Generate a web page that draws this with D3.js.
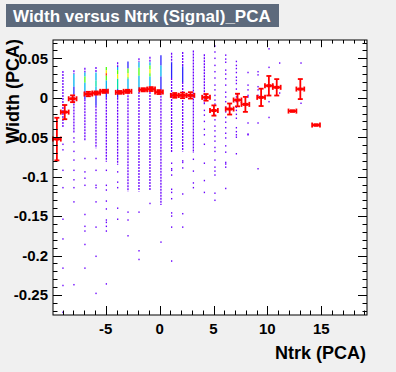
<!DOCTYPE html>
<html>
<head>
<meta charset="utf-8">
<script src="https://cdn.jsdelivr.net/npm/d3@7"></script>
<style>
  body { margin: 0; background: #f0f0f0; }
  text { font-family: "Liberation Sans", Arial, sans-serif; font-weight: bold; }
</style>
</head>
<body>
<div id="chart"></div>
<script>
// 2D histogram columns (x bin centres) and what is drawn in each
const colX = [-8.98, -7.96, -6.94, -5.91, -4.95, -3.90, -2.94, -1.92, -0.90, 0.12, 1.11,
              2.14, 3.13, 4.15, 5.13, 6.13, 7.12, 8.20, 9.13, 10.15, 11.14, 13.12];

// dense runs of filled bins: [yTop, yBottom, colour level]
const colDense = [
  [[0.034, -0.037, 0]],
  [[0.035, 0.030, 0], [0.030, 0.014, 2], [0.014, 0.004, 1], [0.004, -0.045, 0]],
  [[0.038, 0.032, 0], [0.032, 0.027, 2], [0.027, 0.019, 4], [0.019, 0.009, 2], [0.009, -0.002, 1], [-0.002, -0.054, 0]],
  [[0.039, 0.032, 0], [0.032, 0.022, 2], [0.022, 0.014, 3], [0.014, 0.006, 2], [0.006, -0.010, 1], [-0.010, -0.064, 0]],
  [[0.039, 0.035, 4], [0.035, 0.031, 5], [0.031, 0.028, 6], [0.028, 0.022, 4], [0.022, 0.011, 2], [0.011, 0.0, 1], [0.0, -0.081, 0]],
  [[0.045, 0.039, 0], [0.039, 0.035, 2], [0.035, 0.030, 4], [0.030, 0.024, 5], [0.024, 0.011, 3], [0.011, 0.0, 1], [0.0, -0.085, 0]],
  [[0.046, 0.037, 1], [0.037, 0.031, 4], [0.031, 0.026, 5], [0.026, 0.024, 4], [0.024, 0.007, 2], [0.007, -0.119, 0]],
  [[0.050, 0.045, 0], [0.045, 0.038, 2], [0.038, 0.028, 4], [0.028, 0.011, 2], [0.011, -0.119, 0]],
  [[0.052, 0.045, 0], [0.045, 0.041, 2], [0.041, 0.036, 4], [0.036, 0.031, 5], [0.031, 0.027, 4], [0.027, 0.011, 2], [0.011, -0.117, 0]],
  [[0.054, 0.041, 1], [0.041, 0.027, 2], [0.027, 0.010, 1], [0.010, -0.136, 0]],
  [[0.057, 0.045, 0], [0.045, 0.025, 1], [0.025, -0.070, 0]],
  [[0.058, 0.040, 0], [0.040, 0.020, 1], [0.020, -0.068, 0]],
  [[0.060, -0.070, 0]],
  [[0.055, -0.009, 0]],
  [], [], [], [], [], [], [], []
];

// isolated single bins
const colDots = [
  [-0.059, -0.066, -0.092, -0.114, -0.154, -0.179, -0.216, -0.238, -0.272],
  [-0.051, -0.056, -0.068, -0.079, -0.092, -0.104, -0.114, -0.132, -0.237],
  [-0.077, -0.094, -0.102, -0.111, -0.148, -0.163, -0.169, -0.186, -0.216],
  [-0.077, -0.092, -0.111, -0.114, -0.132, -0.164, -0.201, -0.248],
  [-0.092, -0.111, -0.117, -0.131, -0.141, -0.155, -0.158, -0.163, -0.169, -0.236],
  [-0.094, -0.107, -0.114, -0.140, -0.154],
  [-0.145, -0.155, -0.175],
  [-0.145, -0.194, -0.205],
  [-0.134],
  [-0.183],
  [-0.083, -0.090, -0.092, -0.098, -0.116, -0.120, -0.128, -0.146, -0.150, -0.164, -0.207],
  [-0.080, -0.082, -0.089, -0.122, -0.147, -0.164],
  [-0.078, -0.093, -0.108, -0.114],
  [-0.016, -0.022, -0.030, -0.040, -0.047, -0.059, -0.083, -0.105, -0.120],
  [0.0655, 0.058, 0.050, 0.041, 0.033, 0.025, 0.016, 0.010, 0.003, -0.003, -0.008, -0.016, -0.022,
   -0.028, -0.036, -0.042, -0.049, -0.055, -0.063, -0.068, -0.079, -0.088, -0.093, -0.098, -0.121, -0.130],
  [0.054, 0.049, 0.045, 0.035, 0.030, 0.024, 0.016, 0.007, 0.001, -0.005, -0.012, -0.018, -0.025,
   -0.031, -0.038, -0.045, -0.051, -0.061, -0.069, -0.082, -0.084, -0.088, -0.115],
  [0.046, 0.041, 0.037, 0.032, 0.026, 0.022, 0.018, 0.011, 0.005, 0.001, -0.005, -0.012, -0.016,
   -0.021, -0.026, -0.038, -0.043, -0.047, -0.050, -0.071],
  [0.032, 0.016, 0.010, 0.003, 0.001, -0.032, -0.046, -0.047],
  [0.033, 0.029, 0.014, 0.010, 0.003, -0.032, -0.090],
  [0.062, 0.0385, -0.005, -0.025],
  [0.044, 0.006],
  [0.044, -0.007]
];

// profile (red points)
const profX = [-9.54, -8.81, -8.08, -6.62, -5.89, -5.16, -3.71, -2.98, -1.52, -0.79, -0.06, 1.40, 2.13,
               2.86, 4.31, 5.04, 6.50, 7.23, 7.96, 9.42, 10.14, 10.87, 12.33, 13.06, 14.52];
const profY = [-0.0524, -0.0182, -0.0013, 0.0047, 0.0060, 0.0081, 0.0068, 0.0081, 0.0101, 0.0110, 0.0072,
               0.0030, 0.0030, 0.0030, 0.0005, -0.0162, -0.0143, -0.0029, -0.0084, 0.0005, 0.0152, 0.0132,
               -0.0169, 0.0110, -0.0346];
const profErr = [0.027, 0.009, 0.0043, 0.0028, 0.002, 0.002, 0.0018, 0.002, 0.002, 0.0025, 0.0025,
                 0.003, 0.0035, 0.004, 0.0042, 0.0065, 0.007, 0.008, 0.0095, 0.011, 0.0124, 0.0104,
                 0.0008, 0.0127, 0.0008];
const profHalfW = 0.364;

const xMajor = [-5, 0, 5, 10, 15];
const yMajor = [0.05, 0, -0.05, -0.1, -0.15, -0.2, -0.25];
const yLabels = ["0.05", "0", "-0.05", "-0.1", "-0.15", "-0.2", "-0.25"];
const palette = ["#6a00ff", "#2b24ff", "#00b4f0", "#00e0a8", "#50ff10", "#f0f000", "#ff3c00"];

const W = 396, H = 372;
const svg = d3.select("#chart").append("svg").attr("width", W).attr("height", H);

const x = d3.scaleLinear().domain([-9.9, 19.25]).range([53, 367]);
const y = d3.scaleLinear().domain([-0.2754, 0.0732]).range([315, 40]);

// title box
svg.append("rect").attr("x", 6).attr("y", 4).attr("width", 273).attr("height", 23).attr("fill", "#5d6a7c");
svg.append("text").attr("x", 13).attr("y", 21.5).attr("fill", "white").style("font-size", "17px")
  .text("Width versus Ntrk (Signal)_PCA");

// frame
svg.append("rect").attr("x", 53).attr("y", 40).attr("width", 314).attr("height", 275).attr("fill", "white");

const plot = svg.append("g");

// dense runs
colDense.forEach((runs, i) => {
  runs.forEach(r => {
    plot.append("line")
      .attr("x1", x(colX[i])).attr("x2", x(colX[i]))
      .attr("y1", y(r[0])).attr("y2", y(r[1]))
      .attr("stroke", palette[r[2]]).attr("stroke-width", 1.3)
      .attr("stroke-dasharray", r[2] === 0 ? "2,1" : null);
  });
});

// isolated bins
colDots.forEach((ys, i) => {
  plot.selectAll(null).data(ys).enter().append("rect")
    .attr("x", x(colX[i]) - 0.6).attr("y", d => y(d) - 0.75)
    .attr("width", 1.3).attr("height", 1.5)
    .attr("fill", palette[0]);
});

// profile points
const prof = profX.map((px, i) => ({ x: px, y: profY[i], e: profErr[i] }));
const pg = plot.selectAll(".pt").data(prof).enter().append("g").attr("class", "pt")
  .attr("stroke", "#ff0000").attr("stroke-width", 1.8);
pg.append("line").attr("x1", d => x(d.x - profHalfW)).attr("x2", d => x(d.x + profHalfW))
  .attr("y1", d => y(d.y)).attr("y2", d => y(d.y));
pg.append("line").attr("x1", d => x(d.x)).attr("x2", d => x(d.x))
  .attr("y1", d => y(d.y + d.e)).attr("y2", d => y(d.y - d.e));
[-1, 1].forEach(s => {
  pg.append("line").attr("x1", d => x(d.x + s * profHalfW)).attr("x2", d => x(d.x + s * profHalfW))
    .attr("y1", d => y(d.y) - 2.5).attr("y2", d => y(d.y) + 2.5);
  pg.append("line").attr("x1", d => x(d.x) - 2.5).attr("x2", d => x(d.x) + 2.5)
    .attr("y1", d => y(d.y + s * d.e)).attr("y2", d => y(d.y + s * d.e));
});
pg.append("rect").attr("x", d => x(d.x) - 2.5).attr("y", d => y(d.y) - 1.5)
  .attr("width", 5).attr("height", 3).attr("fill", "#ff0000").attr("stroke", "none");

// frame border
svg.append("rect").attr("x", 53).attr("y", 40).attr("width", 314).attr("height", 275)
  .attr("fill", "none").attr("stroke", "black").attr("stroke-width", 1);

// ticks
const ax = svg.append("g").attr("stroke", "black").attr("stroke-width", 1);
d3.range(-9, 20).forEach(v => {
  const len = v % 5 === 0 ? 9 : 4.5;
  const px = Math.round(x(v)) + 0.5;
  ax.append("line").attr("x1", px).attr("x2", px).attr("y1", 315).attr("y2", 315 - len);
  ax.append("line").attr("x1", px).attr("x2", px).attr("y1", 40).attr("y2", 40 + len * 0.8);
});
d3.range(-27, 8).forEach(k => {
  const v = k / 100;
  const len = k % 5 === 0 ? 9 : 4.5;
  const py = Math.round(y(v)) + 0.5;
  ax.append("line").attr("x1", 53).attr("x2", 53 + len).attr("y1", py).attr("y2", py);
  ax.append("line").attr("x1", 367).attr("x2", 367 - len).attr("y1", py).attr("y2", py);
});

// tick labels
svg.selectAll(".xl").data(xMajor).enter().append("text")
  .attr("x", d => x(d)).attr("y", 333.5).attr("text-anchor", "middle")
  .style("font-size", "15px").text(d => d);
svg.selectAll(".yl").data(yMajor).enter().append("text")
  .attr("x", 48).attr("y", d => y(d) + 5.4).attr("text-anchor", "end")
  .style("font-size", "15px").text((d, i) => yLabels[i]);

// axis titles
svg.append("text").attr("x", 366).attr("y", 359).attr("text-anchor", "end")
  .style("font-size", "18px").text("Ntrk (PCA)");
svg.append("text").attr("transform", "translate(19,39) rotate(-90)").attr("text-anchor", "end")
  .style("font-size", "18px").text("Width (PCA)");
</script>
</body>
</html>
